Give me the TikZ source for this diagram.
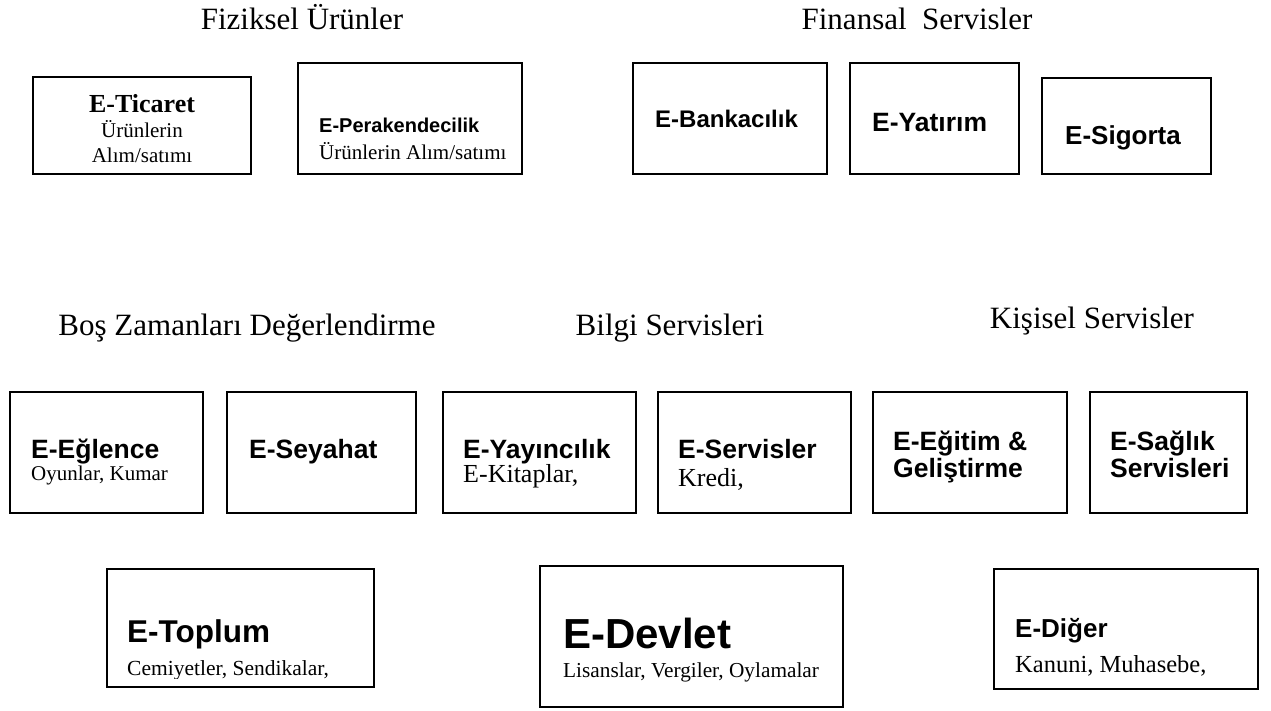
\documentclass[tikz,border=0pt]{standalone}
\usepackage{fontspec}
\setmainfont{Liberation Serif}
\newfontfamily\arialfont{Liberation Sans}
\newcommand\fsz[1]{\fontsize{#1}{#1}\selectfont}
\begin{document}
\begin{tikzpicture}[x=1pt,y=-1pt,
  box/.style={draw=black, line width=1.6pt, inner sep=0pt, outer sep=0pt, anchor=north west},
  hdr/.style={inner sep=0pt, anchor=base, font=\fsz{31}},
  ttl/.style={inner sep=0pt, anchor=base west, font=\arialfont\bfseries\fsz{#1}},
  sub/.style={inner sep=0pt, anchor=base west, font=\fsz{#1}},
]
\useasboundingbox (0,0) rectangle (1271,711);

% group headings
\node[hdr] (hFiz) at (302,30) {Fiziksel Ürünler};
\node[hdr] (hFin) at (917,30) {Finansal\ \ Servisler};
\node[hdr] (hBos) at (247,335) {Boş Zamanları Değerlendirme};
\node[hdr] (hBil) at (670,335) {Bilgi Servisleri};
\node[hdr] (hKis) at (1092,328) {Kişisel Servisler};

% first row of boxes
\node[box, minimum width=218pt, minimum height=97pt]  (tic) at (33,77) {};
\node[box, minimum width=224pt, minimum height=111pt] (per) at (298,63) {};
\node[box, minimum width=194pt, minimum height=111pt] (ban) at (633,63) {};
\node[box, minimum width=169pt, minimum height=111pt] (yat) at (850,63) {};
\node[box, minimum width=169pt, minimum height=96pt]  (sig) at (1042,78) {};

\node[inner sep=0pt, anchor=base, font=\bfseries\fsz{26}] (ticT) at (142,113) {E-Ticaret};
\node[inner sep=0pt, anchor=base, font=\fsz{21}] (ticA) at (142,138) {Ürünlerin};
\node[inner sep=0pt, anchor=base, font=\fsz{21}] (ticB) at (142,163) {Alım/satımı};
\node[ttl=20] (perT) at (319,133) {E-Perakendecilik};
\node[sub=21] (perA) at (319,160) {Ürünlerin Alım/satımı};
\node[ttl=24] (banT) at (655,128) {E-Bankacılık};
\node[ttl=26.5] (yatT) at (872,132) {E-Yatırım};
\node[ttl=26] (sigT) at (1065,145) {E-Sigorta};

% second row of boxes
\node[box, minimum width=193pt, minimum height=121pt] (egl) at (10,392) {};
\node[box, minimum width=189pt, minimum height=121pt] (sey) at (227,392) {};
\node[box, minimum width=193pt, minimum height=121pt] (yay) at (443,392) {};
\node[box, minimum width=193pt, minimum height=121pt] (ser) at (658,392) {};
\node[box, minimum width=194pt, minimum height=121pt] (egt) at (873,392) {};
\node[box, minimum width=157pt, minimum height=121pt] (sag) at (1090,392) {};

\node[ttl=26.5] (eglT) at (31,458) {E-Eğlence};
\node[sub=21] (eglA) at (31,480) {Oyunlar, Kumar};
\node[ttl=26.5] (seyT) at (249,458) {E-Seyahat};
\node[ttl=26.5] (yayT) at (463,458) {E-Yayıncılık};
\node[sub=26] (yayA) at (463,482) {E-Kitaplar,};
\node[ttl=26.5] (serT) at (678,458) {E-Servisler};
\node[sub=26] (serA) at (678,486) {Kredi,};
\node[ttl=26.5] (egtT) at (893,450) {E-Eğitim \&};
\node[ttl=26.5] (egtU) at (893,477) {Geliştirme};
\node[ttl=26.5] (sagT) at (1110,450) {E-Sağlık};
\node[ttl=26.5] (sagU) at (1110,477) {Servisleri};

% third row of boxes
\node[box, minimum width=267pt, minimum height=118pt] (top) at (107,569) {};
\node[box, minimum width=303pt, minimum height=141pt] (dev) at (540,566) {};
\node[box, minimum width=264pt, minimum height=120pt] (dig) at (994,569) {};

\node[ttl=31.5] (topT) at (127,642) {E-Toplum};
\begin{scope}
  \clip (107,569) rectangle (374,678);
  \node[sub=21.5] (topA) at (127,675) {Cemiyetler, Sendikalar,};
\end{scope}
\node[ttl=42] (devT) at (563,648) {E-Devlet};
\node[sub=21.3] (devA) at (563,677) {Lisanslar, Vergiler, Oylamalar};
\node[ttl=26] (digT) at (1015,637) {E-Diğer};
\node[sub=24.5] (digA) at (1015,672) {Kanuni, Muhasebe,};
\end{tikzpicture}
\end{document}
